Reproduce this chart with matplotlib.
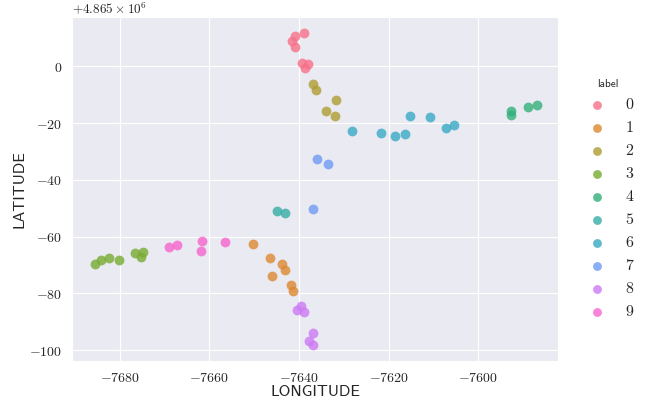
import numpy as np
import matplotlib
matplotlib.use("Agg")
import matplotlib.pyplot as plt
import seaborn as sns
from matplotlib.ticker import FuncFormatter, MultipleLocator

# 위도 offset (+4.865e6)
LAT_OFFSET = 4865000.0

# 클러스터별 (경도, 위도 - offset)
lon_0 = [-7641.5, -7640.8, -7641.0, -7638.9, -7639.4, -7638.6, -7637.9]
lat_0 = [8.9, 10.6, 6.9, 11.7, 1.2, -0.5, 0.8]
lon_1 = [-7650.2, -7646.4, -7646.1, -7643.9, -7643.2, -7641.8, -7641.3]
lat_1 = [-62.6, -67.4, -73.9, -69.7, -71.6, -77.0, -79.0]
lon_2 = [-7636.8, -7636.2, -7631.8, -7634.0, -7631.9]
lat_2 = [-6.3, -8.3, -11.9, -15.6, -17.6]
lon_3 = [-7685.6, -7684.2, -7682.5, -7680.1, -7676.6, -7674.8, -7675.3]
lat_3 = [-69.6, -68.1, -67.4, -68.1, -65.7, -65.3, -67.0]
lon_4 = [-7592.6, -7592.6, -7588.8, -7586.9]
lat_4 = [-15.6, -17.3, -14.4, -13.7]
lon_5 = [-7644.9, -7643.2]
lat_5 = [-51.0, -51.8]
lon_6 = [-7628.1, -7621.8, -7618.5, -7616.3, -7615.3, -7610.8, -7607.2, -7605.3]
lat_6 = [-22.7, -23.5, -24.6, -23.8, -17.5, -18.0, -21.6, -20.8]
lon_7 = [-7636.0, -7633.6, -7636.8]
lat_7 = [-32.5, -34.5, -50.1]
lon_8 = [-7639.5, -7640.5, -7639.0, -7636.9, -7637.7, -7636.9]
lat_8 = [-84.5, -86.0, -86.6, -93.9, -96.6, -98.2]
lon_9 = [-7669.1, -7667.2, -7661.6, -7661.9, -7656.6]
lat_9 = [-63.7, -63.0, -61.4, -64.9, -61.9]

LABELS = [0, 1, 2, 3, 4, 5, 6, 7, 8, 9]
LONS = [lon_0, lon_1, lon_2, lon_3, lon_4, lon_5, lon_6, lon_7, lon_8, lon_9]
LATS = [lat_0, lat_1, lat_2, lat_3, lat_4, lat_5, lat_6, lat_7, lat_8, lat_9]

sns.set_style("darkgrid")
plt.rcParams["mathtext.fontset"] = "cm"

colors = sns.color_palette("husl", len(LABELS))

fig = plt.figure(figsize=(6.49, 4.00), dpi=100)
ax = fig.add_axes([72.3 / 649, 1 - 361 / 400, (558 - 72.3) / 649, (361 - 17.3) / 400])

handles = []
for lab, lon, lat, c in zip(LABELS, LONS, LATS, colors):
    lat_abs = np.array(lat) + LAT_OFFSET
    h = ax.scatter(lon, lat_abs, s=50, color=c, alpha=0.8, linewidths=0, label=f"${lab}$")
    handles.append(h)

ax.set_xlim(-7690.6, -7582.2)
ax.set_ylim(LAT_OFFSET - 103.8, LAT_OFFSET + 17.25)
ax.xaxis.set_major_locator(MultipleLocator(20))
ax.yaxis.set_major_locator(MultipleLocator(20))
ax.xaxis.set_major_formatter(FuncFormatter(lambda v, p: f"${v:.0f}$"))
ax.yaxis.set_major_formatter(FuncFormatter(lambda v, p: f"${v - LAT_OFFSET:.0f}$"))
ax.tick_params(labelsize=10, pad=4)
ax.text(0.0, 1.004, r"$+4.865\times10^{6}$", transform=ax.transAxes,
        fontsize=9.5, ha="left", va="bottom", color="0.15")

ax.set_xlabel("LONGITUDE", family="cmss10", fontsize=11.5, labelpad=0)
ax.set_ylabel("LATITUDE", family="cmss10", fontsize=11.5, labelpad=2)

leg = fig.legend(handles=handles, loc="upper left", bbox_to_anchor=(575 / 649, 1 - 73 / 400),
                 frameon=False, title="label", fontsize=11.5, handletextpad=0.7,
                 labelspacing=0.5, markerscale=0.9, borderaxespad=0)
leg.get_title().set_fontfamily("cmss10")
leg.get_title().set_fontsize(8)

fig.savefig("out.png", dpi=100)
